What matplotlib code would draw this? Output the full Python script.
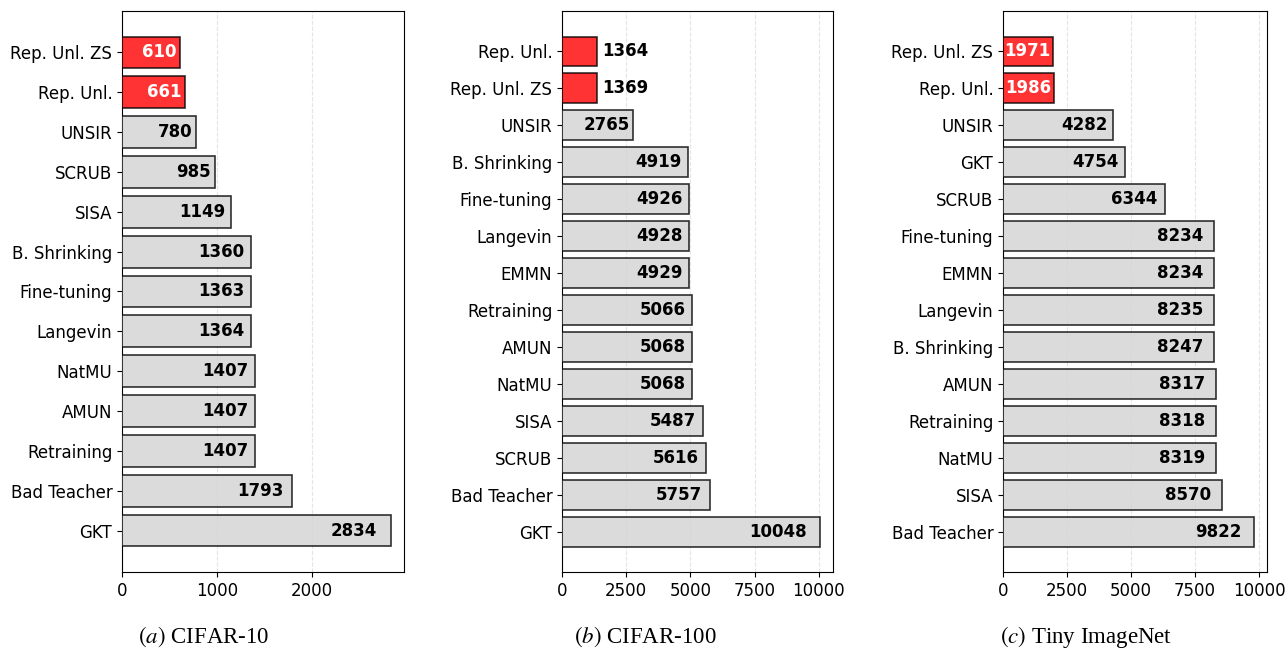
import matplotlib
matplotlib.use('Agg')
import matplotlib.pyplot as plt

plt.rcParams['font.family'] = ['DejaVu Sans']
plt.rcParams['mathtext.fontset'] = 'stix'

# CIFAR-10
cifar10_methods = ['Rep. Unl. ZS', 'Rep. Unl.', 'UNSIR', 'SCRUB', 'SISA', 'B. Shrinking',
                   'Fine-tuning', 'Langevin', 'NatMU', 'AMUN', 'Retraining', 'Bad Teacher', 'GKT']
cifar10_values = [610, 661, 780, 985, 1149, 1360, 1363, 1364, 1407, 1407, 1407, 1793, 2834]
cifar10_ticks = [0, 1000, 2000]

# CIFAR-100
cifar100_methods = ['Rep. Unl.', 'Rep. Unl. ZS', 'UNSIR', 'B. Shrinking', 'Fine-tuning', 'Langevin',
                    'EMMN', 'Retraining', 'AMUN', 'NatMU', 'SISA', 'SCRUB', 'Bad Teacher', 'GKT']
cifar100_values = [1364, 1369, 2765, 4919, 4926, 4928, 4929, 5066, 5068, 5068, 5487, 5616, 5757, 10048]
cifar100_ticks = [0, 2500, 5000, 7500, 10000]

# Tiny ImageNet
tiny_methods = ['Rep. Unl. ZS', 'Rep. Unl.', 'UNSIR', 'GKT', 'SCRUB', 'Fine-tuning', 'EMMN',
                'Langevin', 'B. Shrinking', 'AMUN', 'Retraining', 'NatMU', 'SISA', 'Bad Teacher']
tiny_values = [1971, 1986, 4282, 4754, 6344, 8234, 8234, 8235, 8247, 8317, 8318, 8319, 8570, 9822]
tiny_ticks = [0, 2500, 5000, 7500, 10000]

ours = ['Rep. Unl.', 'Rep. Unl. ZS']


def draw_panel(ax, methods, values, ticks):
    colors = ['red' if m in ours else 'lightgray' for m in methods]
    bars = ax.barh(methods, values, height=0.8, color=colors, edgecolor='black',
                   linewidth=1.2, alpha=0.8, zorder=3)
    ax.invert_yaxis()
    ax.set_xlim(0, max(values) * 1.05)
    ax.set_xticks(ticks)
    ax.grid(True, axis='x', linestyle='--', color='lightgray', alpha=0.6, zorder=0)
    ax.tick_params(labelsize=12)

    vmax = max(values)
    for bar, m, v in zip(bars, methods, values):
        y = bar.get_y() + bar.get_height() / 2
        if v < 0.15 * vmax:
            # too short, label goes outside
            ax.text(v + 0.02 * vmax, y, f'{v}', ha='left', va='center',
                    fontsize=12, fontweight='bold', color='black', zorder=4)
        else:
            c = 'white' if m in ours else 'black'
            ax.text(v * 0.95, y, f'{v}', ha='right', va='center',
                    fontsize=12, fontweight='bold', color=c, zorder=4)


fig = plt.figure(figsize=(12.88, 6.49), dpi=100)
bottom = 1 - 572 / 649
top = 1 - 11 / 649
h = top - bottom
ax1 = fig.add_axes([122 / 1288, bottom, (404 - 122) / 1288, h])
ax2 = fig.add_axes([562 / 1288, bottom, (833 - 562) / 1288, h])
ax3 = fig.add_axes([1003 / 1288, bottom, (1267 - 1003) / 1288, h])

draw_panel(ax1, cifar10_methods, cifar10_values, cifar10_ticks)
draw_panel(ax2, cifar100_methods, cifar100_values, cifar100_ticks)
draw_panel(ax3, tiny_methods, tiny_values, tiny_ticks)

captions = [('(a)', 'CIFAR-10', 204), ('(b)', 'CIFAR-100', 645), ('(c)', 'Tiny ImageNet', 1086)]
for tag, name, cx in captions:
    fig.text(cx / 1288, 1 - 637 / 649, f'$\\mathit{{{tag}}}$ {name}', ha='center', va='center',
             fontsize=16.5, family='Liberation Serif')

fig.savefig('out.png', dpi=100)
